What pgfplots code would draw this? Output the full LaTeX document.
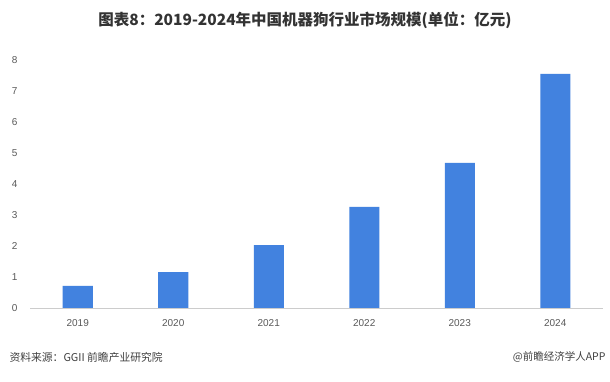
\documentclass[border=0pt]{standalone}
\usepackage{pgfplots}
\pgfplotsset{compat=1.18}
\usepackage{fontspec}
\setmainfont{Liberation Sans}
\newfontfamily\cjk{Noto Sans CJK SC}
\definecolor{barblue}{HTML}{4282DF}
\definecolor{ticklab}{HTML}{595959}
\begin{document}
\begin{tikzpicture}[x=1pt,y=1pt]
\path[fill=white] (0,0) rectangle (610,382);
\begin{axis}[
  at={(30pt,74pt)}, anchor=south west,
  scale only axis, width=573pt, height=248pt,
  xmin=-0.5, xmax=5.5, ymin=0, ymax=8,
  ybar, bar width=30pt,
  xtick={0,1,2,3,4,5},
  xticklabels={2019,2020,2021,2022,2023,2024},
  ytick={0,1,2,3,4,5,6,7,8},
  axis x line*=bottom, axis y line*=left,
  x axis line style={draw=gray!40, line width=0.8pt, -},
  y axis line style={draw=none},
  tick style={draw=none},
  ticklabel style={font=\fontsize{10}{12}\selectfont, text=ticklab},
  /pgf/number format/assume math mode=true,
  yticklabel style={anchor=east, xshift=-9pt},
  xticklabel style={yshift=-4pt},
  clip=false,
]
\addplot[fill=barblue, draw=none] coordinates {(0,0.71) (1,1.16) (2,2.03) (3,3.26) (4,4.68) (5,7.55)};
\end{axis}
\node[font=\cjk\bfseries\fontsize{15.5}{17}\selectfont, text=black!80] at (305,362) {图表8：2019-2024年中国机器狗行业市场规模(单位：亿元)};
\node[anchor=west, font=\cjk\fontsize{10.8}{12}\selectfont, text=black!75] at (6,25) {资料来源：GGII 前瞻产业研究院};
\node[anchor=east, font=\cjk\fontsize{10.5}{12}\selectfont, text=black!75] at (609,25) {@前瞻经济学人APP};
\end{tikzpicture}
\end{document}
